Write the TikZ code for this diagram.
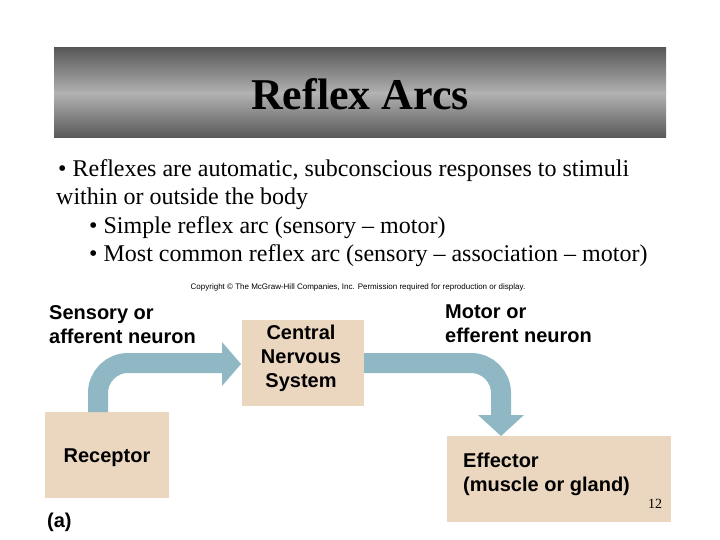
\documentclass[tikz,border=0pt]{standalone}
\usepackage{fontspec}
\setmainfont{Liberation Serif}
\newfontfamily\arialfont{Liberation Sans}
\definecolor{tanbox}{HTML}{EBD7C0}
\definecolor{arrowblue}{HTML}{8FB7C4}
\definecolor{bardark}{HTML}{585858}
\definecolor{barlight}{HTML}{B2B2B2}
\begin{document}
\begin{tikzpicture}[x=1pt,y=-1pt,
  box/.style={fill=tanbox, draw=none, inner sep=0pt},
  lbl/.style={font=\arialfont\bfseries\fontsize{20}{24}\selectfont, align=left, anchor=north west, inner sep=0pt},
  boxtext/.style={font=\arialfont\bfseries\fontsize{20}{24}\selectfont, align=center},
  bullet/.style={font=\fontsize{24}{28}\selectfont, anchor=west, inner sep=0pt},
  shaft/.style={draw=arrowblue, line width=20pt},
  head/.style={fill=arrowblue, draw=none}]
\useasboundingbox (0,0) rectangle (720,540);
\fill[white] (0,0) rectangle (720,540);
% title bar
\shade[top color=bardark, bottom color=barlight] (54,48) rectangle (666,93.5);
\shade[top color=barlight, bottom color=bardark] (54,93) rectangle (666,138);
\node[font=\bfseries\fontsize{44}{50}\selectfont] (title) at (360,94) {Reflex Arcs};
% bullets
\node[bullet] (b1) at (58,171) {\textbullet{} Reflexes are automatic, subconscious responses to stimuli};
\node[bullet] (b2) at (56,199) {within or outside the body};
\node[bullet] (b3) at (89,228) {\textbullet{} Simple reflex arc (sensory -- motor)};
\node[bullet] (b4) at (89,256) {\textbullet{} Most common reflex arc (sensory -- association -- motor)};
\node[font=\arialfont\fontsize{8}{9}\selectfont] (copy) at (358,287) {Copyright \textcopyright{} The McGraw-Hill Companies, Inc. Permission required for reproduction or display.};
% boxes
\path[box] (45,412) rectangle (169,498);
\node[boxtext] (rec) at (107,458) {Receptor};
\path[box] (242,320) rectangle (364,406);
\node[boxtext] (cns) at (301,358) {Central\\Nervous\\System};
\path[box] (447,436) rectangle (671,522);
\node[lbl] (eff) at (463,453) {Effector\\(muscle or gland)};
% labels
\node[lbl] (sens) at (49,305) {Sensory or\\afferent neuron};
\node[lbl] (mot) at (445,305) {Motor or\\efferent neuron};
\node[font=\arialfont\bfseries\fontsize{20}{24}\selectfont, anchor=west, inner sep=0pt] (a) at (47,522) {(a)};
\node[font=\fontsize{14}{16}\selectfont] (num) at (655,504) {12};
% arrows
\coordinate (s1) at (98,412);
\coordinate (e1) at (223,363);
\draw[shaft] (s1) -- (98,393) arc[start angle=180, end angle=270, radius=30] -- (e1);
\fill[head] (222,342) -- (241,364) -- (222,386) -- cycle;
\coordinate (s2) at (364,363);
\coordinate (e2) at (501,416);
\draw[shaft] (s2) -- (471,363) arc[start angle=-90, end angle=0, radius=30] -- (e2);
\fill[head] (478,415) -- (524,415) -- (501,436) -- cycle;
\end{tikzpicture}
\end{document}
